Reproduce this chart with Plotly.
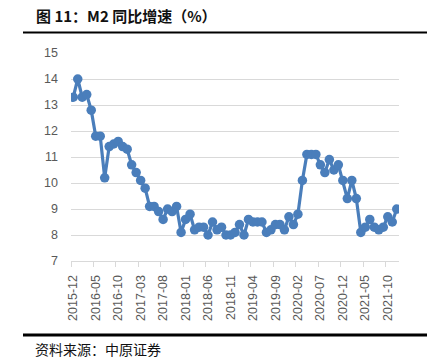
import plotly.graph_objects as go

start_year, start_month = 2015, 12
values = [
    13.3, 14.0, 13.3, 13.4, 12.8, 11.8, 11.8, 10.2, 11.4, 11.5, 11.6, 11.4, 11.3,
    10.7, 10.4, 10.1, 9.8, 9.1, 9.1, 8.9, 8.6, 9.0, 8.9, 9.1, 8.1,
    8.6, 8.8, 8.2, 8.3, 8.3, 8.0, 8.5, 8.2, 8.3, 8.0, 8.0, 8.1,
    8.4, 8.0, 8.6, 8.5, 8.5, 8.5, 8.1, 8.2, 8.4, 8.4, 8.2, 8.7,
    8.4, 8.8, 10.1, 11.1, 11.1, 11.1, 10.7, 10.4, 10.9, 10.5, 10.7, 10.1,
    9.4, 10.1, 9.4, 8.1, 8.3, 8.6, 8.3, 8.2, 8.3, 8.7, 8.5, 9.0,
]
months = []
y, m = start_year, start_month
for _ in values:
    months.append(f"{y}-{m:02d}")
    m += 1
    if m > 12:
        m = 1
        y += 1
tick_idx = list(range(0, len(months), 5))
tick_labels = [months[i] for i in tick_idx]
y_ticks = [7, 8, 9, 10, 11, 12, 13, 14, 15]

W, H = 431, 362
L, R, T, B = 71, 399, 53, 261

def px(x):
    return (x - L) / (R - L)

def py(yv):
    return (B - yv) / (B - T)

fig = go.Figure()
fig.add_trace(go.Scatter(
    x=list(range(len(values))), y=values, mode="lines+markers",
    line=dict(color="#4a7ebb", width=3.2),
    marker=dict(color="#4a7ebb", size=9.5),
    hoverinfo="skip",
))

fig.update_layout(
    width=W, height=H,
    margin=dict(l=L, r=W - R, t=T, b=H - B),
    paper_bgcolor="white", plot_bgcolor="white",
    showlegend=False,
    font=dict(family="Liberation Sans, Arial, sans-serif", color="#595959"),
    xaxis=dict(
        range=[-0.5, len(values) - 0.5],
        tickmode="array", tickvals=tick_idx, ticktext=tick_labels,
        tickangle=-90, tickfont=dict(size=12.5, color="#595959"),
        showgrid=False, zeroline=False,
        showline=True, linecolor="#d9d9d9", linewidth=1,
        ticks="", ticklen=0, ticklabelstandoff=8,
        minor=dict(tick0=-0.5, dtick=5, ticks="outside", ticklen=5,
                   tickcolor="#d9d9d9", tickwidth=1, showgrid=False),
        fixedrange=True,
    ),
    yaxis=dict(
        range=[7, 15], tickvals=y_ticks,
        tickfont=dict(size=12.5, color="#595959"),
        showgrid=True, gridcolor="#d9d9d9", gridwidth=1,
        zeroline=False, showline=False, ticks="", ticklabelstandoff=12,
        fixedrange=True,
    ),
)

fig.add_annotation(
    text="<b>图 11：M2 同比增速（%）</b>", xref="paper", yref="paper",
    x=px(34), y=py(16), xanchor="left", yanchor="middle", showarrow=False,
    font=dict(family="Noto Sans CJK SC", size=15, color="#111111"),
)
fig.add_annotation(
    text="资料来源：中原证券", xref="paper", yref="paper",
    x=px(33), y=py(349), xanchor="left", yanchor="middle", showarrow=False,
    font=dict(family="Noto Sans CJK SC", size=14, color="#111111"),
)
fig.add_shape(type="line", xref="paper", yref="paper",
              x0=px(23), x1=px(427), y0=py(32.5), y1=py(32.5),
              line=dict(color="black", width=2))
fig.add_shape(type="line", xref="paper", yref="paper",
              x0=px(23), x1=px(427), y0=py(335), y1=py(335),
              line=dict(color="black", width=3))

fig.write_html(
    "out.html",
    config={"displayModeBar": False},
    post_script="document.body.style.margin='0';document.body.style.overflow='hidden';",
)
